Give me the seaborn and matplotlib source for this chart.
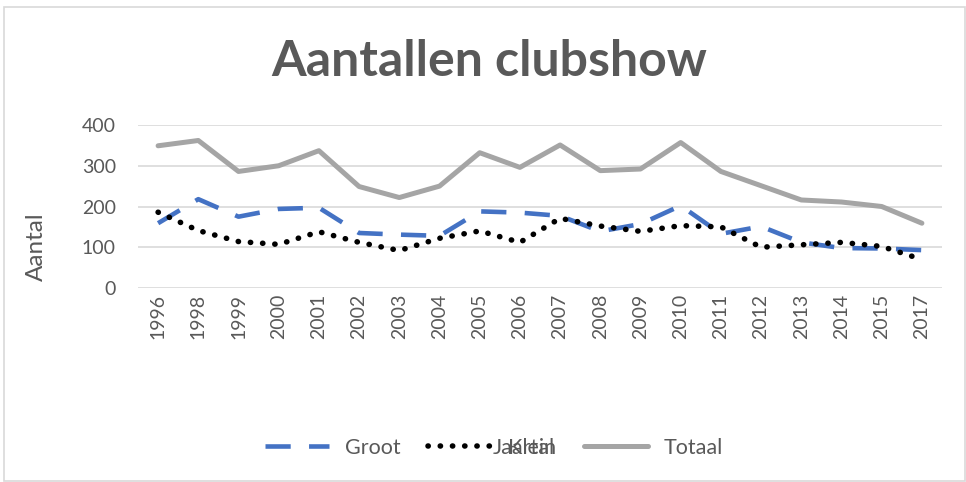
import matplotlib
matplotlib.use("Agg")
import matplotlib.pyplot as plt
import seaborn as sns
import pandas as pd
from matplotlib.lines import Line2D
from matplotlib.patches import Rectangle

years = ["1996", "1998", "1999", "2000", "2001", "2002", "2003", "2004", "2005", "2006",
         "2007", "2008", "2009", "2010", "2011", "2012", "2013", "2014", "2015", "2017"]
groot = [159, 218, 175, 194, 197, 135, 131, 128, 188, 185,
         177, 139, 157, 202, 133, 151, 112, 98, 97, 93]
klein = [186, 141, 114, 107, 138, 112, 92, 122, 140, 112,
         171, 152, 139, 153, 150, 100, 106, 112, 102, 70]
totaal = [349, 362, 286, 300, 337, 249, 222, 250, 332, 296,
          351, 288, 292, 357, 286, 251, 216, 211, 200, 159]

title = "Aantallen clubshow"
ylabel = "Aantal"
xlabel = "Jaartal"
series_names = ["Groot", "Klein", "Totaal"]
yticks = [0, 100, 200, 300, 400]

sns.set_theme(style="white")
plt.rcParams["font.family"] = ["Lato", "DejaVu Sans"]

txt = "#595959"
c_groot = "#4472C4"
c_klein = "#000000"
c_tot = "#A5A5A5"

dash_groot = (5.5, 4.0)
dash_klein = (0.05, 2.15)
lw_klein = 4.0

fig = plt.figure(figsize=(9.66, 4.82), dpi=100)
ax = fig.add_axes([138 / 966, 1 - 288 / 482, 804 / 966, 163 / 482])

df = pd.DataFrame({"Jaar": years, "Groot": groot, "Klein": klein, "Totaal": totaal})

sns.lineplot(data=df, x="Jaar", y="Groot", ax=ax, color=c_groot, lw=3.3, sort=False)
ax.lines[-1].set_dashes(dash_groot)
ax.lines[-1].set_dash_capstyle("butt")
sns.lineplot(data=df, x="Jaar", y="Klein", ax=ax, color=c_klein, lw=lw_klein, sort=False)
ax.lines[-1].set_dashes(dash_klein)
ax.lines[-1].set_dash_capstyle("round")
sns.lineplot(data=df, x="Jaar", y="Totaal", ax=ax, color=c_tot, lw=3.6, sort=False)
ax.lines[-1].set_solid_capstyle("round")
ax.lines[-1].set_solid_joinstyle("round")

ax.set_xlim(-0.5, len(years) - 0.5)
ax.set_ylim(0, 400)
ax.set_yticks(yticks)
ax.grid(axis="y", color="#D9D9D9", lw=1.2)
ax.grid(axis="x", visible=False)
ax.set_axisbelow(True)
for s in ax.spines.values():
    s.set_visible(False)

ax.tick_params(axis="y", length=0, pad=16, labelsize=14, labelcolor=txt)
ax.tick_params(axis="x", length=0, pad=4, labelsize=14, labelcolor=txt, rotation=90)

ax.set_ylabel(ylabel, fontsize=17.5, color=txt, va="center")
ax.yaxis.set_label_coords((36 - 138) / 804, (288 - 247) / 163)
ax.set_xlabel(xlabel, fontsize=15.5, color=txt, va="center")
ax.xaxis.set_label_coords((524 - 138) / 804, (288 - 448) / 163)

fig.text(489 / 966, 1 - 62 / 482, title, ha="center", va="center",
         fontsize=36, fontweight="bold", color=txt)

handles = [
    Line2D([], [], color=c_groot, lw=3.3, dashes=dash_groot),
    Line2D([], [], color=c_klein, lw=lw_klein, dashes=dash_klein, dash_capstyle="round"),
    Line2D([], [], color=c_tot, lw=3.6, solid_capstyle="round"),
]
leg = fig.legend(handles, series_names, loc="center", bbox_to_anchor=(494 / 966, 1 - 448 / 482),
                 ncol=3, frameon=False, fontsize=15.5, handlelength=2.95,
                 handletextpad=0.75, columnspacing=1.3)
for t in leg.get_texts():
    t.set_color(txt)

fig.patches.append(Rectangle((4 / 966, 1 / 482), 961 / 966, 474 / 482, transform=fig.transFigure,
                             fill=False, edgecolor="#D9D9D9", lw=1.2))

fig.savefig("out.png", dpi=100, facecolor="white")
